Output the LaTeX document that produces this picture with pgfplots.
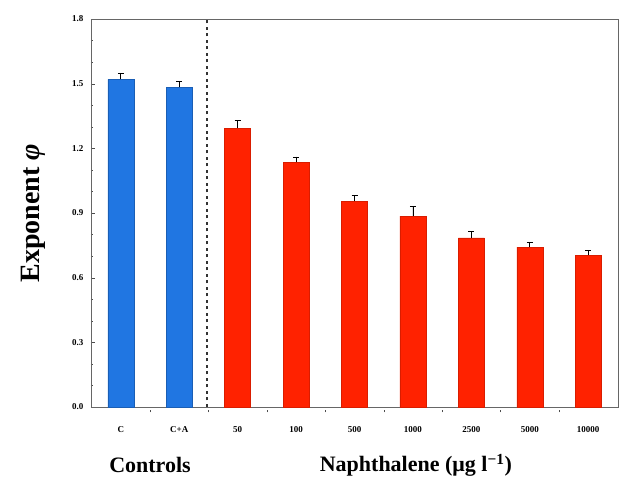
\documentclass[border=0pt]{standalone}
\usepackage{pgfplots}
\pgfplotsset{compat=1.18}
\usepackage{fontspec}
\setmainfont{Liberation Serif}
\definecolor{barblue}{RGB}{32,118,226}
\definecolor{barred}{RGB}{255,34,0}
\begin{document}
\begin{tikzpicture}
\begin{axis}[
  scale only axis,
  width=527pt, height=388pt,
  xmin=-0.51, xmax=8.51,
  ymin=0, ymax=1.8,
  ytick={0,0.3,0.6,0.9,1.2,1.5,1.8},
  yticklabel style={/pgf/number format/fixed,/pgf/number format/fixed zerofill,/pgf/number format/precision=1},
  xtick={0,1,2,3,4,5,6,7,8},
  xticklabels={C,C+A,50,100,500,1000,2500,5000,10000},
  minor xtick={0.5,1.5,2.5,3.5,4.5,5.5,6.5,7.5},
  minor x tick style={yshift=-3pt},
  x tick style={black!70},
  major x tick style={draw=none},
  minor y tick num=2,
  xtick pos=bottom, ytick pos=left,
  tick align=inside,
  major tick length=4pt, minor tick length=2.5pt,
  tick style={black!70},
  axis line style={black!60},
  ticklabel style={font=\fontsize{9}{10}\selectfont\bfseries},
  /pgf/number format/assume math mode=true,
  xticklabel style={yshift=-12pt},
  yticklabel style={xshift=-4pt},
  ylabel={\fontsize{28}{30}\selectfont\bfseries Exponent \textit{φ}},
  ylabel style={at={(axis description cs:-0.11,0.5)}, anchor=center},
  ybar, bar width=26pt, bar shift=0pt,
  clip=false,
]
\addplot[fill=barblue, draw=barblue!80!black, error bars/.cd, y dir=plus, y explicit, error bar style={black, line width=0.6pt}, error mark options={rotate=90, mark size=3pt, black}]
  coordinates {(0,1.520) +- (0,0.030) (1,1.484) +- (0,0.026)};
\addplot[fill=barred, draw=barred!85!black, error bars/.cd, y dir=plus, y explicit, error bar style={black, line width=0.6pt}, error mark options={rotate=90, mark size=3pt, black}]
  coordinates {(2,1.294) +- (0,0.036) (3,1.136) +- (0,0.025) (4,0.955) +- (0,0.028) (5,0.886) +- (0,0.044) (6,0.784) +- (0,0.032) (7,0.742) +- (0,0.023) (8,0.705) +- (0,0.023)};
\addplot[sharp plot, black!80, dash pattern=on 3pt off 3.5pt, line width=1.6pt, forget plot] coordinates {(1.48,0) (1.48,1.8)};
\node[font=\fontsize{22}{24}\selectfont\bfseries] at (axis cs:0.5,-0.27) {Controls};
\node[font=\fontsize{22}{24}\selectfont\bfseries] at (axis cs:5.05,-0.27) {Naphthalene (μg l\textsuperscript{−1})};
\end{axis}
\path (current axis.south west) ++(-91pt,-71pt) rectangle ++(633pt,478pt);
\end{tikzpicture}
\end{document}
